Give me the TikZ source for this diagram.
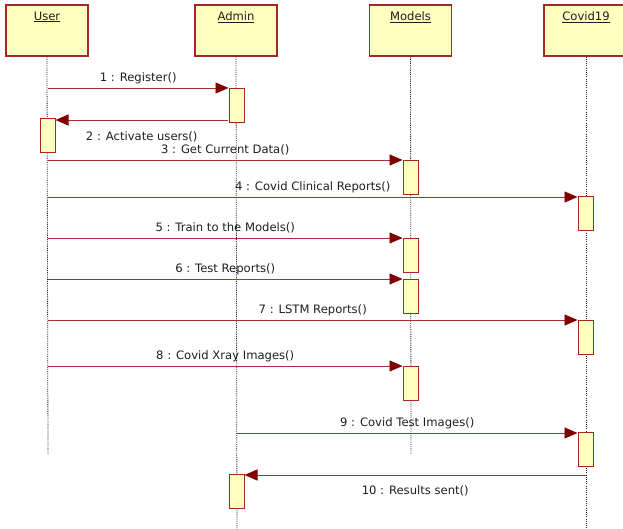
\documentclass[tikz,border=0pt]{standalone}
\usepackage{fontspec}
\setmainfont{DejaVu Sans}
\usetikzlibrary{arrows.meta}
\definecolor{boxfill}{RGB}{255,255,192}
\definecolor{boxline}{RGB}{165,40,40}
\definecolor{msgline}{RGB}{165,50,50}
\definecolor{headred}{RGB}{128,0,0}
\definecolor{txt}{RGB}{30,30,30}
\begin{document}
\begin{tikzpicture}[x=1pt, y=-1pt, font=\fontsize{11.6}{13}\selectfont, text=txt,
	obj/.style = {draw=boxline, fill=boxfill, line width=1.1pt, minimum width=82pt, minimum height=51pt, inner sep=0},
	act/.style = {draw=boxline, fill=boxfill, line width=1pt, minimum width=15pt, minimum height=34pt, inner sep=0, anchor=north},
	life/.style = {line width=0.8pt, black!85, dash pattern=on 1.1pt off 1.1pt},
	msg/.style = {draw=msgline, line width=0.95pt, -{Triangle[length=13pt, width=11pt, color=headred]}},
	lbl/.style = {inner sep=4pt, midway}]
	\useasboundingbox (0,0) rectangle (623,529);
	\node[obj] (user) at (47,30.5) {};
	\node[obj] (admin) at (236,30.5) {};
	\node[obj] (models) at (410.5,30.5) {};
	\node[obj, minimum width=84pt] (covid) at (586,30.5) {};
	\node[anchor=north, inner sep=0] (userlbl) at ([yshift=-7pt]user.north) {\underline{User}};
	\node[anchor=north, inner sep=0] (adminlbl) at ([yshift=-7pt]admin.north) {\underline{Admin}};
	\node[anchor=north, inner sep=0] (modelslbl) at ([yshift=-7pt]models.north) {\underline{Models}};
	\node[anchor=north, inner sep=0] (covidlbl) at ([yshift=-7pt]covid.north) {\underline{Covid19}};
	\coordinate (userend) at (48,455);
	\coordinate (adminend) at (237,529);
	\coordinate (modelsend) at (411,454);
	\coordinate (covidend) at (586,529);
	\draw[life] (user.south) -- (userend);
	\draw[life] (admin.south) -- (adminend);
	\draw[life] (models.south) -- (modelsend);
	\draw[life] (covid.south) -- (covidend);
	\node[act] (a1) at (236.5,88) {};
	\node[act] (u2) at (47.5,118) {};
	\node[act] (m3) at (410.5,160) {};
	\node[act] (c4) at (585.5,196) {};
	\node[act] (m5) at (410.5,238) {};
	\node[act] (m6) at (410.5,279) {};
	\node[act] (c7) at (585.5,320) {};
	\node[act] (m8) at (410.5,366) {};
	\node[act] (c9) at (585.5,432) {};
	\node[act] (a10) at (236.5,474) {};
	\coordinate (p1) at (48,88);
	\coordinate (p2) at (228,120);
	\coordinate (p3) at (48,160);
	\coordinate (p4) at (48,197);
	\coordinate (p5) at (48,238);
	\coordinate (p6) at (48,279);
	\coordinate (p7) at (48,320);
	\coordinate (p8) at (48,366);
	\coordinate (p9) at (237,433);
	\coordinate (p10) at (586,475);
	\draw[msg] (p1) -- (a1.north west) node[lbl, above] {1 : Register()};
	\draw[msg] (p2) -- (u2.east |- p2) node[lbl, below=7pt] {2 : Activate users()};
	\draw[msg] (p3) -- (m3.north west) node[lbl, above] {3 : Get Current Data()};
	\draw[msg] (p4) -- (c4.north west |- p4) node[lbl, above] {4 : Covid Clinical Reports()};
	\draw[msg] (p5) -- (m5.north west) node[lbl, above] {5 : Train to the Models()};
	\draw[msg] (p6) -- (m6.north west) node[lbl, above] {6 : Test Reports()};
	\draw[msg] (p7) -- (c7.north west) node[lbl, above] {7 : LSTM Reports()};
	\draw[msg] (p8) -- (m8.north west) node[lbl, above] {8 : Covid Xray Images()};
	\draw[msg] (p9) -- (c9.north west |- p9) node[lbl, above] {9 : Covid Test Images()};
	\draw[msg] (p10) -- (a10.east |- p10) node[lbl, below=6pt] {10 : Results sent()};
\end{tikzpicture}
\end{document}
